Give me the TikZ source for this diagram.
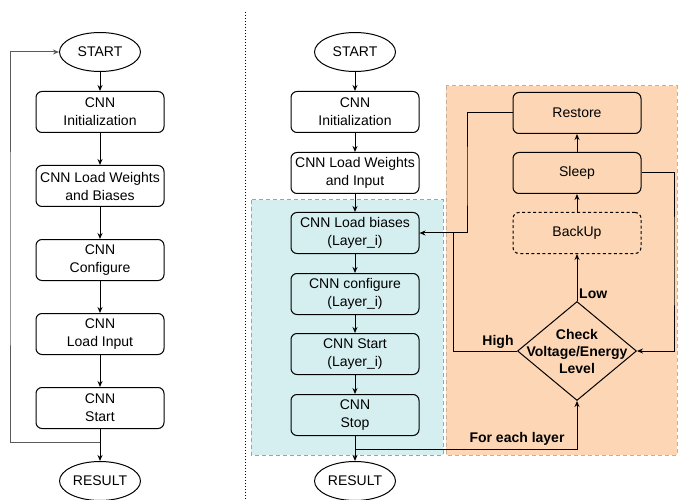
\documentclass[tikz,border=0pt]{standalone}
\usepackage{fontspec}
\setmainfont{Liberation Sans}
\usetikzlibrary{shapes.geometric,arrows.meta}
\definecolor{cyanfill}{RGB}{213,239,241}
\definecolor{cyanedge}{RGB}{112,182,192}
\definecolor{orangefill}{RGB}{253,215,181}
\definecolor{orangeedge}{RGB}{196,176,156}
\definecolor{loopgray}{RGB}{90,90,90}
\tikzset{
  every node/.style={font=\fontsize{14}{18}\selectfont},
  stepbox/.style={draw, line width=1pt, rounded corners=6pt, minimum width=128pt,
    minimum height=41pt, align=center, inner sep=0pt},
  dashbox/.style={stepbox, dash pattern=on 3pt off 2.5pt},
  terminal/.style={draw, ellipse, line width=1pt, fill=white, minimum width=81pt,
    minimum height=39pt, inner sep=0pt},
  decision/.style={draw, diamond, line width=1pt, minimum width=119pt,
    minimum height=99pt, inner sep=0pt},
  link/.style={line width=1pt},
  arr/.style={link, -{Stealth[length=6pt,width=5pt]}},
  tag/.style={font=\bfseries\fontsize{14}{17}\selectfont, align=center, inner sep=0pt},
  region/.style={dash pattern=on 4pt off 3pt, line width=1pt},
}
\begin{document}
\begin{tikzpicture}[x=1pt,y=-1pt]
\useasboundingbox (0,0) rectangle (678,500);

% shaded regions
\path[region, fill=orangefill, draw=orangeedge] (446,86) rectangle (677,455);
\path[region, fill=cyanfill, draw=cyanedge] (251,200) rectangle (443,455);

% separator
\draw[line width=1pt, dash pattern=on 1pt off 2pt] (245,12) -- (245,500);

% left flow
\node[terminal] (ls) at (100,52) {START};
\node[stepbox] (l1) at (100,112) {CNN\\Initialization};
\node[stepbox] (l2) at (100,186) {CNN Load Weights\\and Biases};
\node[stepbox] (l3) at (100,260) {CNN\\Configure};
\node[stepbox] (l4) at (100,334) {CNN\\Load Input};
\node[stepbox] (l5) at (100,408) {CNN\\Start};
\node[terminal] (lr) at (100,481) {RESULT};
\coordinate (lj) at (100,442);
\coordinate (lx) at (10,250);

\draw[arr] (ls) -- (l1);
\draw[arr] (l1) -- (l2);
\draw[arr] (l2) -- (l3);
\draw[arr] (l3) -- (l4);
\draw[arr] (l4) -- (l5);
\draw[arr] (l5) -- (lr);
\draw[arr, loopgray] (lj) -| (lx) |- (ls.west);

% middle flow
\node[terminal] (ms) at (355,52) {START};
\node[stepbox] (m1) at (355,112) {CNN\\Initialization};
\node[stepbox] (m2) at (355,173) {CNN Load Weights\\and Input};
\node[stepbox] (m3) at (355,233) {CNN Load biases\\(Layer\_i)};
\node[stepbox] (m4) at (355,294) {CNN configure\\(Layer\_i)};
\node[stepbox] (m5) at (355,354) {CNN Start\\(Layer\_i)};
\node[stepbox] (m6) at (355,415) {CNN\\Stop};
\node[terminal] (mr) at (355,481) {RESULT};
\coordinate (mj) at (355,449);

\draw[arr] (ms) -- (m1);
\draw[arr] (m1) -- (m2);
\draw[arr] (m2) -- (m3);
\draw[arr] (m3) -- (m4);
\draw[arr] (m4) -- (m5);
\draw[arr] (m5) -- (m6);
\draw[arr] (m6) -- (mr);

% power management loop
\node[stepbox] (rst) at (577,113) {Restore};
\node[stepbox] (slp) at (577,173) {Sleep};
\node[dashbox] (bk) at (577,233) {BackUp};
\node[decision] (chk) at (577,351) {};
\node[tag] (chktxt) at (chk.center) {Check\\Voltage/Energy\\Level};
\coordinate (rx) at (467,180);
\coordinate (hx) at (453,233);
\coordinate (sx) at (674,260);

\draw[arr] (bk) -- (slp);
\draw[arr] (slp) -- (rst);
\draw[arr] (chk.north) -- (bk.south);
\draw[arr] (rst.west) -| (rx) |- (m3.east);
\draw[link] (chk.west) -| (hx);
\draw[arr] (slp.east) -| (sx) |- (chk.east);
\draw[arr] (mj) -| (chk.south);

\node[tag, anchor=west] (low) at (579,294) {Low};
\node[tag] (high) at (498,342) {High};
\node[tag] (each) at (517,439) {For each layer};
\end{tikzpicture}
\end{document}
